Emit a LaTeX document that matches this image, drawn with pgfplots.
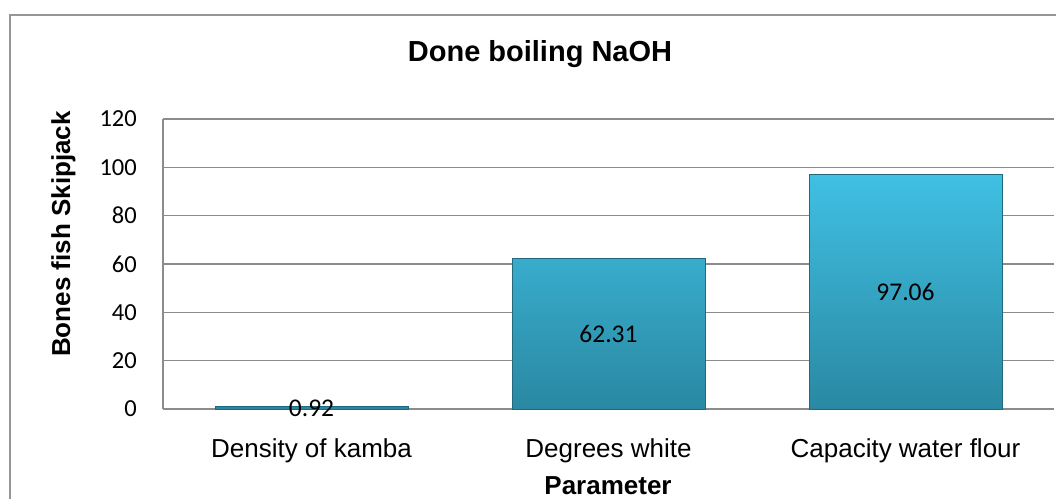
\documentclass[border=0pt]{standalone}
\usepackage{pgfplots}
\pgfplotsset{compat=1.18}
\usepackage{fontspec}
\setmainfont{Liberation Sans}
\newfontfamily\calfont{Carlito}
\definecolor{gridgray}{RGB}{140,140,140}
\definecolor{framegray}{RGB}{150,150,150}
\definecolor{bartop}{RGB}{64,192,227}
\definecolor{barbot}{RGB}{42,136,162}
\definecolor{baredge}{RGB}{35,105,125}
\begin{document}
\begin{tikzpicture}[x=1pt,y=1pt]
\path[use as bounding box] (0,0) rectangle (1056,498);
\draw[framegray, line width=2.5pt] (10,-10) -- (10,483) -- (1080,483);
\node[anchor=base, font=\fontsize{29}{34}\selectfont\bfseries] at (540,436) {Done boiling NaOH};
\node[anchor=base, rotate=90, font=\fontsize{26}{30}\selectfont\bfseries] at (70,264) {Bones fish Skipjack};
\node[anchor=base, inner sep=0pt, font=\fontsize{26}{30}\selectfont\bfseries] at (608,4) {Parameter};
\begin{axis}[
  at={(163pt,89pt)}, anchor=south west,
  scale only axis, width=891pt, height=290pt,
  xmin=-0.5, xmax=2.5, ymin=0, ymax=120,
  ytick={0,20,40,60,80,100,120},
  xtick={0,1,2},
  xticklabels={Density of kamba, Degrees white, Capacity water flour},
  ymajorgrids, grid style={gridgray, line width=1.5pt},
  axis x line=bottom, axis y line=left,
  axis line style={-, gridgray, line width=1.5pt},
  major tick length=0pt,
  /pgf/number format/assume math mode=true,
  yticklabel style={anchor=east, inner sep=0pt, xshift=-26pt, font=\calfont\fontsize{24.5}{28}\selectfont},
  xticklabel style={anchor=base, inner sep=0pt, yshift=-48pt, font=\fontsize{26}{30}\selectfont},
  clip=false,
]
\addplot[ybar, bar width=193pt, top color=bartop, bottom color=barbot, draw=baredge, line width=0.8pt,
  visualization depends on={rawy \as \ry},
  nodes near coords={\pgfmathprintnumber[fixed, precision=2]{\pgfplotspointmeta}},
  nodes near coords style={anchor=center, inner sep=0pt, yshift=-\ry*1.2083333pt, font=\calfont\fontsize{25.5}{30}\selectfont, text=black},
] coordinates {(0,0.92) (1,62.31) (2,97.06)};
\end{axis}
\end{tikzpicture}
\end{document}
